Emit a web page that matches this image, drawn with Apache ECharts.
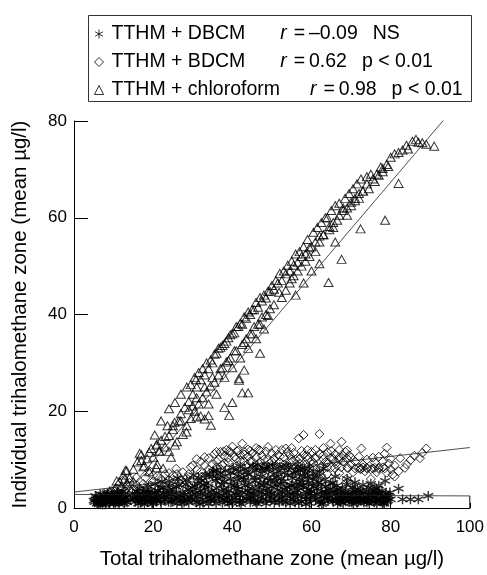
<!DOCTYPE html>
<html>
<head>
<meta charset="utf-8">
<script src="https://cdn.jsdelivr.net/npm/echarts@6/dist/echarts.min.js"></script>
<style>html,body{margin:0;padding:0;background:#fff}#c{width:487px;height:575px}</style>
</head>
<body>
<div id="c"></div>
<script>
// ---- Data ----
const xTicks = [0, 20, 40, 60, 80, 100];
const yTicks = [0, 20, 40, 60, 80];
const seriesNames = ['TTHM + DBCM', 'TTHM + BDCM', 'TTHM + chloroform'];
const rValues = ['–0.09', '0.62', '0.98'];
const pValues = ['NS', 'p < 0.01', 'p < 0.01'];

// TTHM + DBCM (asterisks)
const dbcm = [
[5.2,1.2],[5.5,1.8],[5.8,0.9],[6.1,2.3],[6.4,1.5],[6.7,1.0],[7.0,2.0],[7.3,1.3],[7.6,2.6],[7.9,0.8],[8.2,1.7],[8.5,2.2],[8.8,1.1],[9.1,1.9],[9.4,2.8],[9.7,1.4],[10.0,0.9],[10.3,2.4],[10.6,1.6],[10.9,3.2],[11.2,1.2],[11.5,2.0],[11.8,2.9],[12.1,1.5],[12.4,3.5],[12.7,0.9],[13.0,2.2],
[15.5,1.3],[15.8,2.8],[16.2,0.9],[16.5,4.0],[16.8,2.0],[17.2,1.5],[17.5,3.3],[17.8,0.8],[18.2,2.5],[18.5,1.2],[18.8,4.5],[19.2,1.8],[19.5,3.0],[19.8,0.9],[20.2,2.2],[20.5,5.0],[20.8,1.4],[21.2,3.6],[21.5,2.6],[22.0,1.0],
[22.5,4.2],[23.0,1.7],[23.5,2.9],[24.0,5.6],[24.5,1.2],[25.0,3.8],[25.5,2.3],[26.0,0.9],[26.5,4.8],[27.0,1.6],[27.5,3.1],[28.0,2.1],[28.5,5.8],[29.0,1.1],[29.5,3.4],[30.0,2.6],
[30.5,4.5],[31,1.2],[31.5,6.2],[32,2.9],[32.5,1.8],[33,3.9],[33.5,5.2],[34,0.9],[34.5,2.5],[35,6.6],[35.5,1.5],[36,4.1],[36.5,3.0],[37,7.2],[37.5,1.1],[38,5.4],[38.5,2.2],[39,3.6],[39.5,6.0],[40,1.0],[40.5,4.6],[41,2.7],[41.5,7.5],[42,1.6],[42.5,3.3],[43,5.8],[43.5,2.0],[44,6.9],[44.5,1.2],[45,4.0],
[45.5,2.6],[46,7.8],[46.5,1.4],[47,5.0],[47.5,3.2],[48,8.2],[48.5,0.9],[49,6.1],[49.5,2.4],[50,4.4],[50.5,7.0],[51,1.6],[51.5,3.7],[52,8.5],[52.5,2.1],[53,5.5],[53.5,1.1],[54,6.8],[54.5,3.0],[55,4.7],[55.5,1.8],[56,7.6],[56.5,2.7],[57,5.9],[57.5,1.3],[58,4.2],[58.5,2.3],[59,6.4],[59.5,1.0],[60,3.5],
[60.5,7.2],[61,1.7],[61.8,5.3],[62.5,2.4],[63,1.0],[63.5,3.4],[64,2.0],[64.8,5.0],[65.5,1.3],[66,2.8],[66.5,3.9],[67,1.6],[67.5,2.4],[68,1.0],[68.5,3.2],[69,2.1],[69.5,1.4],[70,2.9],[70.5,1.8],[71,3.6],[71.5,1.1],[72,2.5],[72.5,1.5],[73,3.2],[73.5,2.0],[74,1.2],[74.5,2.7],[75,1.6],[75.5,3.4],[76,2.2],[76.5,1.0],[77,2.8],[77.5,1.7],[78,2.3],[78.6,5.6],[79,1.3],[79.5,2.6],[80,1.8],[82,4.0],[83,1.8],[85,1.8],[87,1.8],[89.5,2.5],
[5.4,2.5],[6.0,1.1],[6.6,2.9],[7.2,0.7],[7.8,1.9],[8.4,3.0],[9.0,1.0],[9.6,2.2],[10.2,1.5],[10.8,2.6],[11.4,0.8],[12.0,2.4],[12.6,1.9],[13.4,1.2],[15.2,2.2],[16.0,3.4],[16.9,1.1],[17.6,2.3],[18.4,3.8],[19.0,2.6],[19.7,1.2],[20.4,3.2],[21.0,1.7],[21.8,4.1],[22.8,2.3],[23.8,3.6],[24.8,1.6],[25.8,4.4],[26.8,2.6],[27.8,1.2],[28.8,3.9],[29.8,1.8],[30.8,3.2],[31.8,0.8],[32.8,4.8],[33.8,2.3],[34.8,3.5],[35.8,5.6],[36.8,2.0],[37.8,3.9],[38.8,1.4],[39.8,4.8],[40.8,3.0],[41.8,1.2],[42.8,6.3],[43.8,3.6],[44.8,2.2],[45.8,5.7],[46.8,3.5],[47.8,1.8],[48.8,4.0],[49.8,3.0],[50.8,5.6],[51.8,2.8],[52.8,1.4],[53.8,4.3],[54.8,2.0],[55.8,3.2],[56.8,1.0],[57.8,6.7],[58.8,3.3],[59.8,1.9],[60.8,2.6],[61.5,4.0],[62.2,1.4],[63.2,2.6],[64.2,1.5],[65.2,3.0],[66.2,1.9],[67.2,2.8],[68.2,1.9],[69.2,3.0],[70.2,1.2],[71.2,2.4],[72.2,1.9],[73.2,1.2],[74.2,2.2],[75.2,2.6],[76.2,1.5],[77.2,3.0],[78.2,1.2],[79.2,2.1],
[31.2,5.0],[33.2,6.8],[35.2,7.6],[36.2,6.1],[38.2,7.7],[40.2,8.3],[41.2,5.8],[43.2,8.0],[44.2,4.9],[45.2,8.6],[47.2,6.5],[48.2,5.2],[49.2,7.9],[50.2,8.8],[51.2,6.4],[52.2,4.9],[53.2,7.3],[54.2,8.4],[55.2,6.2],[56.2,5.0],[57.2,7.9],[58.2,8.1],[59.2,5.2],[60.2,6.1],[39.2,0.9],[42.2,0.8],[46.2,0.9],[50.6,1.1],[54.6,0.9],[58.6,0.8],[62.6,0.8],[66.6,0.9],[70.6,0.8],[74.6,0.9],[78.4,0.9],[34.4,1.5],[37.4,2.6],[41.4,3.9],[44.6,3.0],[48.4,2.8],[52.6,3.4],[56.4,4.3],[59.6,2.9],[63.6,4.4],[67.8,4.0],[71.6,3.9],[75.8,3.8],[77.8,3.6],
[5.0,1.5],[5.7,2.1],[6.3,0.8],[6.9,1.7],[7.5,2.3],[8.1,1.2],[8.7,2.7],[9.3,1.4],[9.9,2.0],[10.5,1.1],[11.1,2.2],[11.7,1.7],[12.3,2.7],[12.9,1.3],[13.6,2.4],[14.2,1.6],[14.8,3.0],[15.4,1.9],[16.1,2.5],[16.7,1.6],[17.3,2.8],[17.9,1.9],[18.6,3.2],[19.3,1.5],[19.9,2.8],[20.6,1.9],[21.3,2.4],[21.9,1.4],[22.6,3.2],[23.3,2.5],[23.9,1.3],[24.6,2.8],[25.3,1.9],[25.9,3.1],[26.6,2.0],[27.3,1.0],[27.9,2.7],[28.6,1.6],[29.3,2.3],[29.9,4.2],[30.6,1.5],[31.3,2.4],[31.9,3.6],[32.6,1.1],[33.3,2.7],[33.9,4.3],[34.6,1.9],[35.3,2.8],[35.9,1.0],[36.6,2.4],[37.3,4.8],[37.9,1.7],[38.6,3.2],[39.3,2.4],[39.9,1.6],[40.6,2.1],[41.3,4.4],[41.9,2.6],[42.6,1.5],[43.3,4.6],[43.9,2.8],[44.6,1.8],[45.3,2.9],[45.9,1.3],[46.6,4.2],[47.3,2.3],[47.9,4.7],[48.6,1.6],[49.3,3.4],[49.9,1.8],[50.6,2.6],[51.3,4.6],[51.9,1.2],[52.6,2.4],[53.3,3.9],[53.9,2.6],[54.6,4.6],[55.3,2.7],[55.9,1.2],[56.6,3.6],[57.3,2.4],[57.9,4.6],[58.6,1.8],[59.3,3.8],[59.9,2.5],[60.6,4.4],[61.3,2.9],[61.9,1.1],[62.6,3.3],[63.3,1.9],[63.9,3.0],[64.6,2.3],[65.3,1.6],[65.9,3.6],[66.6,2.2],[67.3,1.2],[67.9,2.0],[68.6,1.4],[69.3,2.5],[69.9,1.7],[70.6,3.2],[71.3,2.0],[71.9,1.4],[72.6,2.8],[73.3,1.7],[73.9,3.5],[74.6,1.5],[75.3,2.2],[75.9,1.2],[76.6,3.0],[77.3,2.0],[77.9,1.0],[78.6,2.5],[79.3,1.6],[79.8,3.2],
[22.2,5.5],[24.2,4.6],[26.2,6.1],[28.2,4.9],[30.2,6.8],[32.2,5.7],[34.2,6.9],[36.0,7.9],[37.6,6.4],[39.6,7.3],[41.6,6.6],[42.0,8.6],[43.6,7.4],[45.6,6.4],[46.4,8.9],[47.6,7.6],[48.8,8.6],[49.6,5.6],[51.6,7.6],[52.4,6.1],[53.6,8.8],[55.6,7.2],[56.6,8.6],[57.6,5.3],[58.4,7.2],[59.4,8.2],[60.4,5.0],[61.4,6.4],[62.4,4.9],[63.4,5.9],[64.4,3.8],[65.4,5.2],[66.4,4.6],[67.4,3.4],[68.8,4.8],[70.4,4.3],[72.4,3.6],[74.4,4.2],[76.4,4.0],[78.8,3.0],[62.0,7.4],[63.0,8.2],[66.0,6.5],[69.0,6.0],[71.0,5.3],[73.0,4.8],[75.0,5.0],[77.0,4.6]
];

// TTHM + BDCM (diamonds)
const bdcm = [
[5.5,1.8],[6.5,2.4],[7.5,3.0],[8.5,2.2],[9.5,3.5],[10.5,2.8],[11.0,4.0],[12.3,5.6],[13.0,3.4],[14.0,4.5],
[15.8,6.3],[16.5,3.8],[17.5,5.0],[18.5,4.2],[19.0,7.7],[20.0,5.5],[21.0,6.6],[22.0,4.8],[23.0,7.0],[24.0,5.8],[25.0,6.8],[25.8,8.1],[26.5,5.3],[27.5,7.4],[28.5,6.2],[29.5,8.5],[30.0,5.5],
[31,7.9],[32,9.6],[32.5,6.5],[33,8.8],[34,10.3],[34.5,7.2],[35,9.0],[35.5,11.2],[36,8.4],[36.5,10.0],[37,11.6],[37.5,8.9],[38,10.8],[38.5,12.0],[39,9.4],[39.5,11.5],[40,12.7],[40.5,10.6],[41,8.6],[41.5,11.9],[42,9.8],[42.5,13.3],[43,11.0],[43.5,8.8],[44,12.1],[44.5,9.6],
[45,11.3],[45.5,8.4],[46,12.4],[46.7,12.1],[47,9.5],[47.5,10.8],[48,8.6],[48.5,11.7],[49,9.9],[49.5,8.2],[50,11.3],[50.5,10.2],[51,8.8],[51.5,11.0],[52,9.4],[52.5,12.0],[53,10.5],[53.5,12.3],[54,8.6],[54.5,10.9],[55,9.6],[55.5,11.4],[56,8.4],[56.8,14.4],[57,10.2],[57.5,11.8],[58,15.1],[58.5,9.0],[59,10.7],[59.5,8.2],[60,11.6],
[60.5,9.3],[61,10.4],[62,15.3],[62.5,8.6],[63,10.9],[63.5,9.5],[64,11.5],[64.8,13.3],[65,8.4],[65.5,10.2],[66,11.1],[66.5,8.8],[67,10.5],[67.6,13.7],[68,9.6],[68.5,11.6],[68.8,6.0],[69,8.3],[69.5,10.9],[70,9.0],[70.5,7.4],[71,8.2],[72,8.3],[72.4,8.0],[72.6,12.3],[73,8.4],[73.5,7.6],[74,8.2],[75,8.0],[75.5,10.4],[76,8.3],[76.5,7.4],[77,8.1],[78,8.4],[78.5,11.2],[79,12.5],[79,7.3],[79.5,9.2],[80,8.0],[80.5,6.9],[81,6.5],[82.4,10.3],[83.6,8.3],[85,9.9],[87.4,10.3],[89,12.3],
[33,5.2],[37,6.0],[40,6.5],[44,6.2],[48,6.8],[52,6.3],[56,6.6],[60,6.8],[64,7.0],[67,7.2],[62,6.2],[58,5.5],[50,5.2],[46,5.6],[42,5.0],[38,4.5],[28,4.0],[24,3.5],[20,3.0],[35,3.0],[45,3.5],[55,3.8],[65,4.5],[70,5.0],[75,6.0],
[36,11.6],[37.8,11.7],[39.2,11.8],[41.2,11.7],[43,11.6],[44.5,11.8],[45,8.3],[46.5,8.4],[48.2,8.3],[50,8.4],[51.8,8.3],[53.5,8.4],[55.2,8.3],[57,8.4],[58.8,8.3],[60.5,8.4],[62.2,8.3],[64,8.4],[65.8,8.3],[67.5,8.4],[69.2,8.3],
[55,10.1],[57,10.2],[59,10.1],[61,10.2],[63,10.1],[65,10.2],[67,10.1],[69,10.2],[72.5,8.2],[74,8.3],[75.5,8.2],[77,8.3],[78.5,8.2],
[8,2.8],[10,3.6],[12,3.0],[14,5.2],[16,4.6],[18,6.2],[20,6.8],[22,6.0],[24,7.2],[26,7.0],[27,5.8],[29,7.0],[30,8.8],[31,10.1],[32,7.5],[33,10.5],[34,8.0],[35,7.0],[36,9.6],[37,8.0],[38,9.2],[39,10.4],[40,8.0],[41,10.2],[42,11.0],[43,9.6],[44,10.6],[45,9.7],[46,10.5],[47,11.9],[48,10.0],[49,12.6],[50,9.6],[51,12.0],[52,10.7],[53,9.0],[54,11.6],[55,12.4],[56,10.0],[57,9.2],[58,11.0],[59,12.0],[60,9.8],[61,12.0],[62,11.2],[63,12.4],[64,9.4],[65,11.8],[66,9.6],[67,12.0],[68,10.8],[69,11.9],[70,10.4],[71,9.6],[72,10.6],[73,9.0],[74,10.0],[76,9.4],[77,10.6],[78,9.6],[80,10.2],[81,8.8],[82,7.6],[84,9.0],[86,10.8],[88,11.4]
];

// TTHM + chloroform (triangles)
const chloroform = [
[8,2.5],[9,3.5],[10,2.8],[10.5,4.2],[11,3.3],[11.5,5.5],[12,4.5],[12.5,6.8],[13,7.8],[13.3,7.7],[13.5,5.0],[14,6.2],[14.5,3.8],[15,5.5],
[16,9.5],[16.6,11.3],[17,11.0],[17.5,8.5],[17.8,8.7],[18.5,10.2],[19,7.5],[19.5,12.3],[20,10.5],[20.4,15.1],[20.8,13.0],[21,9.0],[21.5,11.8],[22,14.0],[22.5,8.2],[23,12.6],[23.6,17.0],[24,15.0],[24.5,10.5],[25,16.2],[25.5,13.0],
[26,13.7],[26.5,18.0],[27,19.5],[27.5,15.2],[28,20.8],[28.5,17.0],[29,22.0],[29.5,18.5],[30,23.5],[30.5,20.0],[31,18.8],[31,25.0],[31.5,21.5],[32,26.5],[32.5,22.8],[33,27.5],[33.5,24.0],[34,28.8],[34.5,25.2],[35,30.0],[35.5,26.0],[32,19.0],[34,21.5],[36,23.5],
[36,32.0],[36.5,27.5],[37,33.2],[37.5,29.0],[38,34.0],[38.5,30.2],[39,35.2],[39.5,31.0],[40,36.0],[40.5,32.5],[41,37.5],[41.7,26.8],[42,38.2],[42.5,33.8],[43,39.5],[43.5,35.0],[44,23.8],[44,40.5],[44.5,36.0],[45,41.0],[45.5,37.5],[46,42.5],[46.5,38.0],[47,43.5],[47.5,39.5],[48,44.0],[48.5,40.0],[49,44.8],[49.5,41.2],[50,46.0],[38,27.0],[40,29.0],[42,31.0],[44,33.0],[46,35.0],[48,37.0],[43,28.5],[47,32.0],
[50.5,42.0],[51,47.0],[51.8,44.6],[52,48.5],[52.5,43.5],[53,49.0],[53.5,45.0],[54,50.2],[54.5,46.5],[55,47.4],[55,51.0],[55.5,48.0],[56,52.5],[56.5,49.0],[57,53.0],[57.5,50.0],[58,54.0],[58.5,51.0],[59,55.5],[59.5,52.0],[60,54.0],[60.5,57.0],[61,53.0],[61.5,58.0],[62,55.0],[62.5,59.0],[63,56.5],[63.5,60.0],[64,60.0],[64.3,46.6],[64.5,57.5],[65,61.5],[65.5,58.0],[66,62.5],[66.5,59.5],[67,63.0],[67.6,51.4],[68,62.0],[68.5,64.0],[69,60.5],[69.5,65.0],[70,62.5],[56,44.0],[58,46.5],[60,49.0],[62,50.5],[66,55.0],
[70.5,66.0],[71,63.5],[71.5,67.0],[72,64.0],[72.4,57.7],[72.5,68.0],[73,65.5],[74,68.5],[74.5,66.0],[75,69.0],[76,67.5],[77,68.8],[77.5,70.5],[78,69.5],[78.6,59.5],[79.4,70.6],[80,72.5],[81,73.2],[82,67.1],[83,74.0],[84.4,74.2],[86.4,76.2],[88,75.5],[89,75.2],[91,74.8],
[22,18.0],[24,20.5],[25.5,21.8],[27,23.5],[28.5,25.0],[29.5,25.5],[30.5,27.0],[31.5,28.0],[32.5,28.8],[33.5,30.0],[34.5,30.6],[35.5,31.8],[36.5,33.0],[37.5,33.6],[38.5,34.5],[39.5,35.8],[40.5,36.2],[41.5,37.5],[42.5,38.0],[43.5,39.2],[44.5,40.0],[45.5,41.0],[46.5,41.5],[47.5,42.8],[48.5,43.4],[49.5,44.8],[50.5,45.2],[51.5,46.5],[52.5,47.0],[53.5,48.4],[54.5,49.0],[55.5,50.2],[56.5,50.8],[57.5,52.0],[58.5,52.5],[59.5,53.8],[61,55.0],[62,56.2],[63,56.5],[64.5,58.2],[65.5,59.0],[67,60.5],[68,61.5],[69,62.0],[70,63.2],[71,64.0],[72,65.0],[73,65.5],[74,67.0],[75.5,68.0],[76.5,69.0],[78,70.2],[79,71.0],[82,73.5],[84,75.0],[85.5,75.8],[87,75.6],
[30.8,26.5],[30,21.1],[33,18.4],[34.6,17.1],[34,19.1],[38,20.8],[40,21.8],[39.2,19.1],[42.5,23.8],[41.7,26.4],[25.4,17.7],[28.4,15.7],[21.6,11.7],[24,11.7],[20.8,8.3],[12.8,6.0],[10.8,5.6],
[15,8.0],[17,9.8],[19,11.5],[21,13.2],[23,14.8],[25,17.0],[27,18.0],[29,20.3],[31,22.8],[33,25.0],[35,27.0],[37,28.8],[39,30.5],[41,32.5],[43,34.2],[45,36.0],[47,38.0],[49,39.8]
];

// Fitted regression lines (end points)
const fitDBCM = [[0, 2.8], [100, 2.5]];
const fitBDCM = [[0, 3.3], [100, 12.5]];
const fitChloroform = [[12, 2.0], [93.5, 80.3]];
const frameEdge = [[100, 0], [100, 2.5]];

// ---- Chart ----
const FONT = '"Liberation Sans", Arial, Helvetica, sans-serif';
const asteriskPath = 'path://M5,0L5,10M0.67,2.5L9.33,7.5M0.67,7.5L9.33,2.5';
const hollow = {color: 'rgba(0,0,0,0)', borderColor: '#000', borderWidth: 1};

const chart = echarts.init(document.getElementById('c'), null, {renderer: 'canvas'});

function legendText(name) {
  const i = seriesNames.indexOf(name);
  const rTok = i === 2 ? 'r3' : 'r1';
  return '{t|' + name + '}{' + rTok + '|r}{t|\u2009=\u2009' + rValues[i] + '}{p|' + pValues[i] + '}';
}

const txt = {fontFamily: FONT, fontSize: 19.5, color: '#000'};
const lineStyle = {color: '#222', width: 0.8};
chart.setOption({
  animation: false,
  backgroundColor: '#fff',
  textStyle: {fontFamily: FONT, color: '#000'},
  grid: {left: 74, right: 15, top: 121, bottom: 57, containLabel: false},
  legend: {
    orient: 'vertical', left: 94, top: 24, padding: 0,
    itemWidth: 9, itemHeight: 9, itemGap: 8,
    selectedMode: false,
    data: [
      {name: seriesNames[0], icon: asteriskPath, itemStyle: hollow},
      {name: seriesNames[1], icon: 'diamond', itemStyle: hollow},
      {name: seriesNames[2], icon: 'triangle', itemStyle: hollow}
    ],
    formatter: legendText,
    textStyle: {
      fontFamily: FONT, color: '#000', fontSize: 19.5, lineHeight: 20,
      rich: {
        t: Object.assign({padding: [0, 0, 0, 3]}, txt),
        r1: Object.assign({fontStyle: 'italic', padding: [0, 0, 0, 35]}, txt),
        r3: Object.assign({fontStyle: 'italic', padding: [0, 0, 0, 30]}, txt),
        p: Object.assign({padding: [0, 0, 0, 15]}, txt)
      }
    }
  },
  graphic: [{
    type: 'rect', left: 86, top: 13, silent: true,
    shape: {width: 383, height: 86},
    style: {fill: 'none', stroke: '#333', lineWidth: 1}
  }],
  xAxis: {
    type: 'value', min: xTicks[0], max: xTicks[xTicks.length - 1], interval: 20,
    name: 'Total trihalomethane zone (mean µg/l)', nameLocation: 'middle', nameGap: 41,
    nameTextStyle: {fontFamily: FONT, fontSize: 20.5, color: '#000'},
    axisLine: {show: true, onZero: false, lineStyle: {color: '#000', width: 1}},
    axisTick: {show: true, inside: true, length: 5, lineStyle: {color: '#000'}},
    axisLabel: {fontFamily: FONT, fontSize: 17, color: '#000', margin: 11},
    splitLine: {show: false}
  },
  yAxis: {
    type: 'value', min: yTicks[0], max: yTicks[yTicks.length - 1], interval: 20,
    name: 'Individual trihalomethane zone (mean µg/l)', nameLocation: 'middle', nameGap: 43,
    nameTextStyle: {fontFamily: FONT, fontSize: 20.5, color: '#000'},
    axisLine: {show: true, onZero: false, lineStyle: {color: '#000', width: 1}},
    axisTick: {show: true, inside: true, length: 14, lineStyle: {color: '#000'}},
    axisLabel: {fontFamily: FONT, fontSize: 17, color: '#000', margin: 7},
    splitLine: {show: false}
  },
  series: [
    {name: seriesNames[0], type: 'scatter', data: dbcm, symbol: asteriskPath, symbolSize: 10,
     itemStyle: {color: 'rgba(0,0,0,0)', borderColor: '#000', borderWidth: 1.4}, z: 4, silent: true},
    {name: seriesNames[1], type: 'scatter', data: bdcm, symbol: 'diamond', symbolSize: 9,
     itemStyle: hollow, z: 3, silent: true},
    {name: seriesNames[2], type: 'scatter', data: chloroform, symbol: 'triangle', symbolSize: [9, 8],
     itemStyle: hollow, z: 3, silent: true},
    {name: 'fit DBCM', type: 'line', data: fitDBCM, symbol: 'none', lineStyle: lineStyle, z: 5, silent: true},
    {name: 'fit BDCM', type: 'line', data: fitBDCM, symbol: 'none', lineStyle: lineStyle, z: 5, silent: true},
    {name: 'fit chloroform', type: 'line', data: fitChloroform, symbol: 'none', lineStyle: lineStyle, z: 5, silent: true},
    {name: 'frame', type: 'line', data: frameEdge, symbol: 'none', lineStyle: {color: '#000', width: 1}, z: 5, silent: true}
  ]
});
</script>
</body>
</html>
